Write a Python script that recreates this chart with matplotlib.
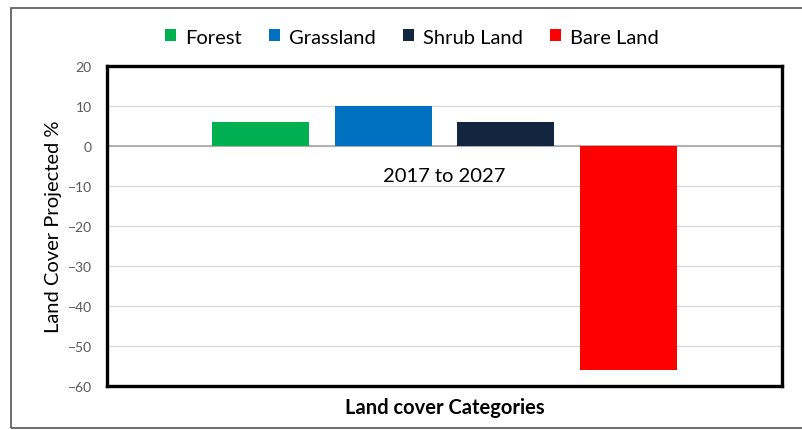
import matplotlib
matplotlib.use("Agg")
import matplotlib.pyplot as plt
from matplotlib.patches import Patch, Rectangle
import numpy as np

# Data
category = "2017 to 2027"
series_names = ["Forest", "Grassland", "Shrub Land", "Bare Land"]
series_values = [6, 10, 6, -56]
series_colors = ["#00B050", "#0070C0", "#13263F", "#FF0000"]
y_ticks = [20, 10, 0, -10, -20, -30, -40, -50, -60]

plt.rcParams["font.family"] = ["Lato", "DejaVu Sans"]

W, H = 803, 431
fig = plt.figure(figsize=(W / 100, H / 100), dpi=100)
fig.patch.set_facecolor("white")

# outer chart border
fig.add_artist(Rectangle((11 / W, 1 - 429 / H), 1.0, (429 - 9) / H,
                         transform=fig.transFigure, fill=False,
                         edgecolor="#555555", linewidth=1.2))

ax = fig.add_axes([107 / W, 1 - 387 / H, 675 / W, 320 / H])
ax.set_xlim(0, 1)
ax.set_ylim(-60, 20)

n = len(series_values)
spacing = 122.5 / 675
bar_w = 97 / 675
centers = 0.5 + (np.arange(n) - (n - 1) / 2) * spacing
for xc, v, c, name in zip(centers, series_values, series_colors, series_names):
    ax.bar(xc, v, width=bar_w, color=c, label=name, zorder=3)

# gridlines and zero line
ax.set_yticks(y_ticks)
ax.yaxis.grid(True, color="#D9D9D9", linewidth=1.0, zorder=0)
ax.axhline(0, color="#A6A6A6", linewidth=1.2, zorder=2)
ax.tick_params(axis="y", length=0, pad=11, labelsize=10, labelcolor="#595959")
ax.set_xticks([])

for s in ax.spines.values():
    s.set_linewidth(2.4)
    s.set_color("black")
    s.set_zorder(5)

# category label just below the zero line
ax.annotate(category, xy=(0.5, 0), xytext=(0, -30), textcoords="offset pixels",
            ha="center", va="center", fontsize=14.5, color="black")

ax.set_ylabel("Land Cover Projected %", fontsize=14.5, color="black")
ax.yaxis.set_label_coords(-0.066, 0.5)
ax.set_xlabel("Land cover Categories", fontsize=14.5, fontweight="bold",
              color="black", labelpad=8)

handles = [Patch(facecolor=c, edgecolor="none") for c in series_colors]
fig.legend(handles, series_names, loc="center", bbox_to_anchor=(412 / W, 1 - 38 / H),
           ncol=4, frameon=False, fontsize=14.5, handlelength=0.55, handleheight=0.55,
           handletextpad=0.45, columnspacing=1.35)

fig.savefig("out.png", dpi=100, facecolor="white")
